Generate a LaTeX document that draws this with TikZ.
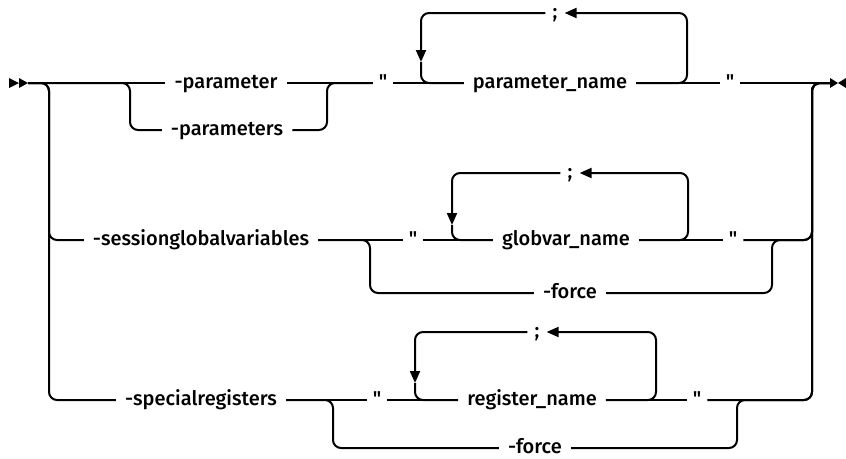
\documentclass[tikz,border=0pt]{standalone}
\usepackage{fontspec}
\setmainfont{Fira Sans}[UprightFont=* Medium, Ligatures=TeXOff]
\usetikzlibrary{arrows.meta}

\newcommand{\dq}{\symbol{34}}

\begin{document}
\begin{tikzpicture}[x=1pt, y=-1pt,
      rail/.style={line width=2pt, rounded corners=8pt},
      repeatarrow/.style={rail, -{Triangle[length=12pt, width=10pt]}},
      every node/.style={font=\fontsize{20}{24}\selectfont, inner xsep=9pt, inner ysep=0pt,
        text height=14pt, text depth=3.3pt},
      tok/.style={inner xsep=6pt}
    ]
    \useasboundingbox (0,0) rectangle (846,458);

    % start and end markers
    \fill (9,78) -- (19,83) -- (9,88) -- cycle;
    \fill (19,78) -- (28,83) -- (19,88) -- cycle;
    \fill (830,78) -- (838,83) -- (830,88) -- cycle;
    \fill (846,78) -- (838,83) -- (846,88) -- cycle;

    \coordinate (in) at (28,83);
    \coordinate (jl) at (49,83);
    \coordinate (jr) at (812,83);
    \coordinate (out) at (830,83);

    % -parameter(s) "parameter_name"
    \node (par) at (226,83) {-parameter};
    \node (pars) at (227,130) {-parameters};
    \node[tok] (q1a) at (383,83) {\dq};
    \node (pn) at (550,83) {parameter\_name};
    \node[tok, inner xsep=7pt] (sem1) at (555,13) {;};
    \node[tok] (q1b) at (730,83) {\dq};
    \coordinate (b1) at (130,83);
    \coordinate (m1) at (327,83);
    \coordinate (r1) at (687,13);
    \coordinate (a1) at (421,62);

    \draw[rail] (in) -- (par);
    \draw[rail] (in) -- (b1) |- (pars);
    \draw[rail] (par) -- (q1a);
    \draw[rail] (pars) -| (m1) -- (q1a);
    \draw[rail] (q1a) -- (pn);
    \draw[repeatarrow] (pn) -| (r1) -- (sem1);
    \draw[repeatarrow] (sem1) -| (a1);
    \draw[rail] (a1) |- (pn);
    \draw[rail] (pn) -- (q1b);
    \draw[rail] (q1b) -- (out);

    % -sessionglobalvariables
    \node (sgv) at (201,240) {-sessionglobalvariables};
    \node[tok] (q2a) at (413,240) {\dq};
    \node (gn) at (566,240) {globvar\_name};
    \node[tok, inner xsep=7pt] (sem2) at (570,173) {;};
    \node[tok] (q2b) at (733,240) {\dq};
    \node (f2) at (570,293) {-force};
    \coordinate (b2) at (370,240);
    \coordinate (m2) at (772,240);
    \coordinate (r2) at (688,173);
    \coordinate (a2) at (452,225);

    \draw[rail] (in) -- (jl) |- (sgv);
    \draw[rail] (sgv) -- (q2a);
    \draw[rail] (sgv) -- (b2) |- (f2);
    \draw[rail] (q2a) -- (gn);
    \draw[repeatarrow] (gn) -| (r2) -- (sem2);
    \draw[repeatarrow] (sem2) -| (a2);
    \draw[rail] (a2) |- (gn);
    \draw[rail] (gn) -- (q2b);
    \draw[rail] (q2b) -| (jr) -- (out);
    \draw[rail] (f2) -| (m2) -| (jr) -- (out);

    % -specialregisters
    \node (spr) at (201,400) {-specialregisters};
    \node[tok] (q3a) at (377,400) {\dq};
    \node (rn) at (532,400) {register\_name};
    \node[tok, inner xsep=7pt] (sem3) at (537,332) {;};
    \node[tok] (q3b) at (697,400) {\dq};
    \node (f3) at (535,448) {-force};
    \coordinate (b3) at (333,400);
    \coordinate (m3) at (737,400);
    \coordinate (r3) at (656,332);
    \coordinate (a3) at (415,383);

    \draw[rail] (in) -- (jl) |- (spr);
    \draw[rail] (spr) -- (q3a);
    \draw[rail] (spr) -- (b3) |- (f3);
    \draw[rail] (q3a) -- (rn);
    \draw[repeatarrow] (rn) -| (r3) -- (sem3);
    \draw[repeatarrow] (sem3) -| (a3);
    \draw[rail] (a3) |- (rn);
    \draw[rail] (rn) -- (q3b);
    \draw[rail] (q3b) -| (jr) -- (out);
    \draw[rail] (f3) -| (m3) -| (jr) -- (out);

\end{tikzpicture}
\end{document}
